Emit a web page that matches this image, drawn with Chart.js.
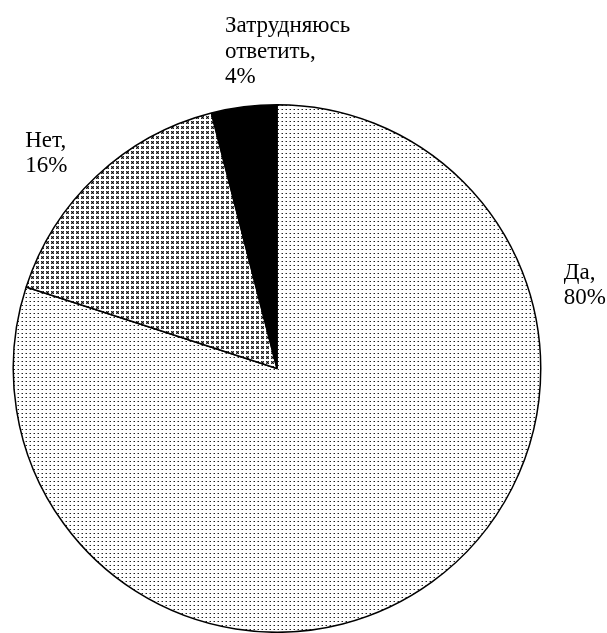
<!DOCTYPE html>
<html lang="ru">
<head>
<meta charset="utf-8">
<script src="https://cdn.jsdelivr.net/npm/chart.js@4"></script>
<style>
  html, body { margin: 0; padding: 0; background: #fff; }
  #box { width: 607px; height: 633px; }
</style>
</head>
<body>
<div id="box"><canvas id="pie"></canvas></div>
<script>
'use strict';

// survey answers, clockwise from 12 o'clock
const answers = [ 'Да', 'Нет', 'Затрудняюсь ответить' ];
const shares = [ 80, 16, 4 ];
// text lines of each outside label
const labelLines = [
  [ 'Да,', '80%' ],
  [ 'Нет,', '16%' ],
  [ 'Затрудняюсь', 'ответить,', '4%' ]
];

function makeTile( size, cells ) {
  const c = document.createElement( 'canvas' );
  c.width = size;
  c.height = size;
  const g = c.getContext( '2d' );
  g.fillStyle = '#fff';
  g.fillRect( 0, 0, size, size );
  cells.forEach( function( p ) {
    g.fillStyle = p[2];
    g.fillRect( p[0], p[1], 1, 1 );
  } );
  return document.createElement( 'canvas' ).getContext( '2d' ).createPattern( c, 'repeat' );
}

// fine dot screen
const dots = makeTile( 4, [ [ 1, 1, '#999' ], [ 2, 1, '#222' ] ] );
// small crosses
const crosses = makeTile( 5, [
  [ 1, 1, '#222' ], [ 3, 1, '#222' ], [ 2, 2, '#000' ], [ 1, 3, '#222' ], [ 3, 3, '#222' ],
  [ 2, 1, '#777' ], [ 1, 2, '#777' ], [ 3, 2, '#777' ], [ 2, 3, '#777' ]
] );

// where each label sits, relative to the pie centre and radius
function labelAnchor( i, cx, cy, r ) {
  if ( i === 0 ) return { x: cx + r + 23, y: cy - 90 };
  if ( i === 1 ) return { x: cx - r + 12, y: cy - 222 };
  return { x: cx - 52, y: cy - 336.5 };
}

const outsideLabels = {
  id: 'outsideLabels',
  afterDraw( chart ) {
    const ctx = chart.ctx;
    const arcs = chart.getDatasetMeta( 0 ).data;
    ctx.save();
    ctx.fillStyle = '#000';
    ctx.font = '23px "Liberation Serif", "Times New Roman", serif';
    ctx.textAlign = 'left';
    ctx.textBaseline = 'alphabetic';
    arcs.forEach( function( arc, i ) {
      const a = labelAnchor( i, arc.x, arc.y, arc.outerRadius );
      labelLines[i].forEach( function( line, k ) {
        ctx.fillText( line, a.x, a.y + k * 25.5 );
      } );
    } );
    ctx.restore();
  }
};

new Chart( document.getElementById( 'pie' ), {
  type: 'pie',
  data: {
    labels: answers,
    datasets: [ {
      data: shares,
      backgroundColor: [ dots, crosses, '#000' ],
      borderColor: '#000',
      borderWidth: 1.5
    } ]
  },
  options: {
    responsive: true,
    maintainAspectRatio: false,
    animation: false,
    layout: { padding: { top: 104, left: 12, right: 65, bottom: -1 } },
    plugins: {
      legend: { display: false },
      tooltip: { enabled: false }
    }
  },
  plugins: [ outsideLabels ]
} );
</script>
</body>
</html>
